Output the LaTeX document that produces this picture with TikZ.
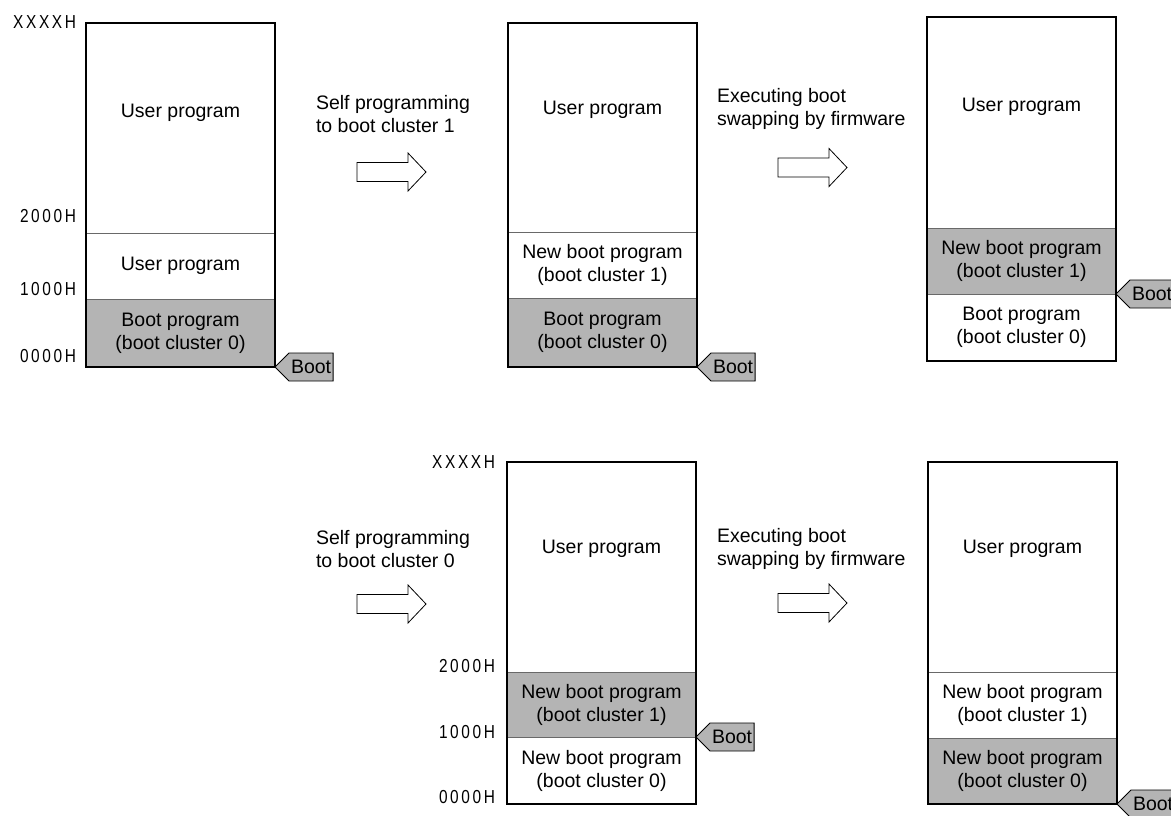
\documentclass[tikz,border=0pt]{standalone}
\usepackage{fontspec}
\setmainfont{Liberation Sans}
\newfontfamily\addrfont[FakeStretch=0.82,LetterSpace=14]{Liberation Sans}
\usetikzlibrary{shapes.symbols}
\definecolor{shade}{RGB}{180,180,180}
\definecolor{divline}{RGB}{105,105,105}
\begin{document}
\begin{tikzpicture}[x=1pt,y=-1pt,
  every node/.style={inner sep=0pt,outer sep=0pt},
  mtext/.style={font=\fontsize{19.5}{23}\selectfont,align=center},
  sec/.style={mtext,minimum width=189pt,anchor=north west},
  secg/.style={sec,fill=shade},
  frame/.style={draw,line width=2.4pt,minimum width=189pt,anchor=north west},
  divl/.style={draw=divline,line width=1pt},
  addr/.style={font=\addrfont\fontsize{18.8}{20}\selectfont,anchor=east},
  bootlbl/.style={shape=signal,signal to=west,signal from=nowhere,signal pointer angle=90,
    draw,fill=shade,line width=0.8pt,minimum height=28pt,inner xsep=2pt,
    font=\fontsize{19.5}{23}\selectfont,anchor=west},
  note/.style={font=\fontsize{19.5}{23}\selectfont,align=left,anchor=west},
  barrow/.style={draw,line width=0.8pt,fill=white}]
\useasboundingbox (0,0) rectangle (1171,815);

% ---------- Map 1 ----------
\node[sec,minimum height=66pt] (m1b) at (86,233) {User program};
\node[secg,minimum height=68pt] (m1c) at (86,299) {Boot program\\(boot cluster 0)};
\node[mtext] (m1a) at (180.5,113) {User program};
\draw[divl] (m1b.north west) -- (m1b.north east);
\draw[divl] (m1c.north west) -- (m1c.north east);
\node[frame,minimum height=344pt] (m1) at (86,23) {};
\node[addr] (m1x) at (76,22.5) {XXXXH};
\node[addr] (m12) at (76,216.5) {2000H};
\node[addr] (m11) at (76,289.5) {1000H};
\node[addr] (m10) at (76,356.5) {0000H};
\node[bootlbl] (t1) at (m1.south east) {Boot};

% ---------- Map 2 ----------
\node[sec,minimum height=66pt] (m2b) at (508,232) {New boot program\\(boot cluster 1)};
\node[secg,minimum height=69pt] (m2c) at (508,298) {Boot program\\(boot cluster 0)};
\node[mtext] (m2a) at (602.5,110) {User program};
\draw[divl] (m2b.north west) -- (m2b.north east);
\draw[divl] (m2c.north west) -- (m2c.north east);
\node[frame,minimum height=344pt] (m2) at (508,23) {};
\node[bootlbl] (t2) at (m2.south east) {Boot};

% ---------- Map 3 ----------
\node[secg,minimum height=66pt] (m3b) at (927,228) {New boot program\\(boot cluster 1)};
\node[sec,minimum height=67pt] (m3c) at (927,294) {Boot program\\(boot cluster 0)};
\node[mtext] (m3a) at (1021.5,107) {User program};
\draw[divl] (m3b.north west) -- (m3b.north east);
\draw[divl] (m3c.north west) -- (m3c.north east);
\node[frame,minimum height=344pt] (m3) at (927,17) {};
\node[bootlbl] (t3) at (m3c.north east) {Boot};

% ---------- Map 4 ----------
\node[secg,minimum height=65pt] (m4b) at (507,672) {New boot program\\(boot cluster 1)};
\node[sec,minimum height=67pt] (m4c) at (507,737) {New boot program\\(boot cluster 0)};
\node[mtext] (m4a) at (601.5,549) {User program};
\draw[divl] (m4b.north west) -- (m4b.north east);
\draw[divl] (m4c.north west) -- (m4c.north east);
\node[frame,minimum height=342pt] (m4) at (507,462) {};
\node[addr] (m4x) at (495,462) {XXXXH};
\node[addr] (m42) at (495,666) {2000H};
\node[addr] (m41) at (495,732) {1000H};
\node[addr] (m40) at (495,797.5) {0000H};
\node[bootlbl] (t4) at (m4c.north east) {Boot};

% ---------- Map 5 ----------
\node[sec,minimum height=66pt] (m5b) at (928,672) {New boot program\\(boot cluster 1)};
\node[secg,minimum height=66pt] (m5c) at (928,738) {New boot program\\(boot cluster 0)};
\node[mtext] (m5a) at (1022.5,549) {User program};
\draw[divl] (m5b.north west) -- (m5b.north east);
\draw[divl] (m5c.north west) -- (m5c.north east);
\node[frame,minimum height=342pt] (m5) at (928,462) {};
\node[bootlbl] (t5) at (m5.south east) {Boot};

% ---------- Step notes ----------
\node[note] (n1) at (316,114.5) {Self programming\\to boot cluster 1};
\node[note] (n2) at (717,109) {Executing boot\\swapping by firmware};
\node[note] (n3) at (316,549) {Self programming\\to boot cluster 0};
\node[note] (n4) at (717,549) {Executing boot\\swapping by firmware};

% ---------- Block arrows ----------
\foreach \ax/\ay in {357/172, 778/167.5, 357/604, 778/603}{
  \draw[barrow,shift={(\ax,\ay)}] (0,-9.5) -- (51,-9.5) -- (51,-19) -- (69,0)
    -- (51,19) -- (51,9.5) -- (0,9.5) -- cycle;
}
\end{tikzpicture}
\end{document}
